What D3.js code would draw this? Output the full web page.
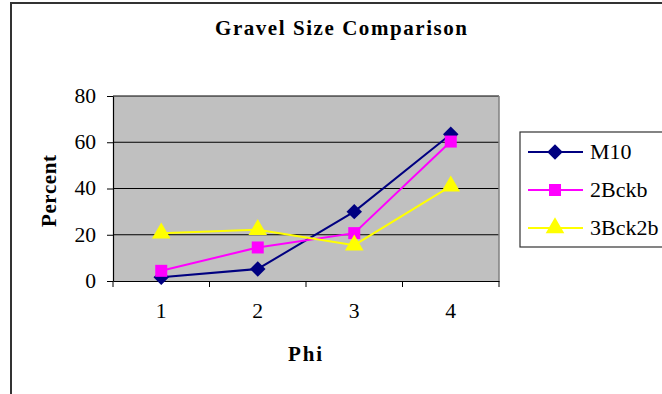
<!DOCTYPE html>
<html><head><meta charset="utf-8">
<script src="https://cdn.jsdelivr.net/npm/d3@7"></script>
<style>body{margin:0;background:#fff}svg{display:block}
svg text{font-family:"Liberation Serif","Times New Roman","DejaVu Serif",serif !important;}</style>
</head><body>
<script>
const categories = ["1","2","3","4"];
const seriesNames = ["M10","2Bckb","3Bck2b"];
const m10 = [1.6, 5.2, 30, 63.5];
const bckb2 = [4.4, 14.5, 20.7, 60.3];
const bck2b3 = [20.7, 22.2, 15.5, 41];
const yTicks = [0,20,40,60,80];
const colors = ["#000080","#FF00FF","#FFFF00"];
const allSeries = [m10, bckb2, bck2b3];

function marker(k){
  if(k===0) return {d:d3.symbol().type(d3.symbolSquare).size(120)(), rot:45};
  if(k===1) return {d:d3.symbol().type(d3.symbolSquare).size(144)(), rot:0};
  return {d:d3.symbol().type(d3.symbolTriangle).size(150)(), rot:0};
}
function stretch(sel,k){
  sel.each(function(){const n=this.getComputedTextLength();
    d3.select(this).attr("textLength",n*k).attr("lengthAdjust","spacingAndGlyphs");});
}

const W=662,H=394;
const svg=d3.select("body").append("svg").attr("width",W).attr("height",H);

svg.append("rect").attr("x",11).attr("y",3).attr("width",W).attr("height",H)
  .attr("fill","#fff").attr("stroke","#333").attr("stroke-width",2);

const L=113,R=499,T=96,B=281;
const x=d3.scaleBand().domain(categories).range([L,R]);
const y=d3.scaleLinear().domain([0,80]).range([B,T]);

svg.append("rect").attr("x",L).attr("y",T).attr("width",R-L).attr("height",B-T).attr("fill","#C0C0C0");
svg.append("g").selectAll("line").data(yTicks.filter(d=>d>0)).join("line")
  .attr("x1",L).attr("x2",R).attr("y1",d=>y(d)).attr("y2",d=>y(d)).attr("stroke","#000").attr("stroke-width",1);
svg.append("line").attr("x1",R).attr("x2",R).attr("y1",T).attr("y2",B).attr("stroke","#808080").attr("stroke-width",1.5);

const ya=svg.append("g").attr("transform",`translate(${L},0)`)
  .call(d3.axisLeft(y).tickValues(yTicks).tickSize(6).tickSizeOuter(0).tickPadding(11));
const xa=svg.append("g").attr("transform",`translate(0,${B})`)
  .call(d3.axisBottom(x).tickSize(0).tickPadding(23));
svg.append("g").selectAll("line").data(d3.range(categories.length+1)).join("line")
  .attr("x1",i=>L+i*x.step()).attr("x2",i=>L+i*x.step()).attr("y1",B).attr("y2",B+6).attr("stroke","#000");
[ya,xa].forEach(g=>{g.attr("font-size",20).attr("font-family",null);
  g.selectAll("text").attr("fill","#000");
  g.selectAll(".domain").attr("stroke","#000").attr("stroke-width",1.2);g.selectAll(".tick line").attr("stroke","#000");});
stretch(ya.selectAll("text"),1.08);
stretch(xa.selectAll("text"),1.08);

const line=d3.line().x((d,i)=>x(categories[i])+x.bandwidth()/2).y(d=>y(d));
allSeries.forEach((s,k)=>{
  svg.append("path").datum(s).attr("d",line).attr("fill","none").attr("stroke",colors[k]).attr("stroke-width",2);
});
allSeries.forEach((s,k)=>{
  const m=marker(k);
  svg.append("g").selectAll("path").data(s).join("path")
    .attr("transform",(d,i)=>`translate(${x(categories[i])+x.bandwidth()/2},${y(d)}) rotate(${m.rot})`)
    .attr("d",m.d).attr("fill",colors[k]);
});

svg.append("text").attr("x",341).attr("y",35).attr("text-anchor","middle")
  .attr("font-weight","bold").attr("font-size",21).attr("textLength",252).attr("lengthAdjust","spacing").text("Gravel Size Comparison");
svg.append("text").attr("transform","translate(56,191) rotate(-90)").attr("text-anchor","middle")
  .attr("font-weight","bold").attr("font-size",21).attr("textLength",72).attr("lengthAdjust","spacing").text("Percent");
svg.append("text").attr("x",305).attr("y",361).attr("text-anchor","middle")
  .attr("font-weight","bold").attr("font-size",21).attr("textLength",34).attr("lengthAdjust","spacing").text("Phi");

// legend
svg.append("rect").attr("x",520).attr("y",132).attr("width",160).attr("height",115)
  .attr("fill","#fff").attr("stroke","#333").attr("stroke-width",1.2);
const lg=svg.append("g").selectAll("g").data(seriesNames).join("g")
  .attr("transform",(d,i)=>`translate(0,${152+i*38})`);
lg.append("line").attr("x1",528).attr("x2",583).attr("stroke",(d,i)=>colors[i]).attr("stroke-width",2);
lg.append("path").attr("transform",(d,i)=>`translate(555,0) rotate(${marker(i).rot})`).attr("d",(d,i)=>marker(i).d).attr("fill",(d,i)=>colors[i]);
const lt=lg.append("text").attr("x",590).attr("y",7).attr("font-size",20).text(d=>d);
stretch(lt,1.1);
</script>
</body></html>
